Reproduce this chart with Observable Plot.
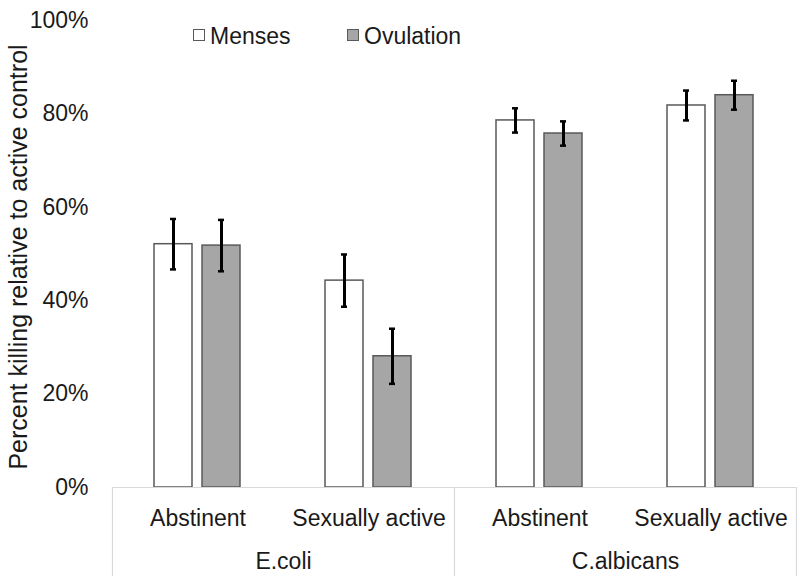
<!DOCTYPE html>
<html>
<head>
<meta charset="utf-8">
<script src="https://cdn.jsdelivr.net/npm/d3@7"></script>
<script src="https://cdn.jsdelivr.net/npm/@observablehq/plot@0.6"></script>
<style>
  html, body { margin: 0; padding: 0; background: #fff; }
  #wrap { position: relative; width: 800px; height: 584px; font-family: "Liberation Sans", Arial, sans-serif; color: #1a1a1a; }
  .lg-box { position: absolute; width: 10px; height: 10px; border: 1.5px solid #595959; }
  .lg-text { position: absolute; font-size: 23px; line-height: 26px; white-space: nowrap; }
</style>
</head>
<body>
<div id="wrap"></div>
<script>
// ---- data ----
const organisms = ["E.coli", "C.albicans"];
const groups = ["Abstinent", "Sexually active"];
const phases = ["Menses", "Ovulation"];
// order: E.coli Abstinent, E.coli Sexually active, C.albicans Abstinent, C.albicans Sexually active
const mensesMean = [52.1, 44.3, 78.6, 81.8];
const mensesErr = [5.4, 5.6, 2.6, 3.2];
const ovulationMean = [51.8, 28.1, 75.8, 84.0];
const ovulationErr = [5.5, 5.9, 2.6, 3.1];
const yTicks = [0, 20, 40, 60, 80, 100];
const yLabel = "Percent killing relative to active control";
const phaseColors = ["#ffffff", "#a6a6a6"];

// ---- build table ----
const cells = [];
organisms.forEach(o => groups.forEach(g => cells.push(`${o}|${g}`)));
const rows = [];
cells.forEach((c, i) => {
  rows.push({cell: c, phase: phases[0], mean: mensesMean[i], err: mensesErr[i]});
  rows.push({cell: c, phase: phases[1], mean: ovulationMean[i], err: ovulationErr[i]});
});

const lineShape = {draw(context, l) { context.moveTo(0, 0); context.lineTo(0, -l); }};
const sepColor = "#d9d9d9";
const font = "'Liberation Sans', Arial, sans-serif";

const chart = Plot.plot({
  width: 800,
  height: 584,
  marginLeft: 112,
  marginRight: 4,
  marginTop: 20,
  marginBottom: 97,
  style: {fontFamily: font, fontSize: "23px", color: "#1a1a1a", background: "#fff"},
  fx: {domain: cells, padding: 0, axis: null},
  x: {domain: phases, paddingInner: 0.204, paddingOuter: 0.847, axis: null},
  y: {domain: [0, 100], axis: null},
  color: {domain: phases, range: phaseColors},
  marks: [
    Plot.axisY({ticks: yTicks, tickFormat: d => d + "%", tickSize: 0, tickPadding: 24, fontSize: 23, label: null}),
    Plot.axisFx({anchor: "bottom", tickSize: 0, tickPadding: 22, fontSize: 23, label: null, tickFormat: d => d.split("|")[1]}),
    Plot.text([yLabel], {fx: () => cells[0], text: d => d, frameAnchor: "left", rotate: -90, textAnchor: "middle", lineAnchor: "middle", dx: -94, dy: 3, fontSize: 25}),
    Plot.text(organisms, {fx: d => `${d}|${groups[0]}`, text: d => d, frameAnchor: "bottom-right", textAnchor: "middle", lineAnchor: "top", dy: 65, fontSize: 23}),
    Plot.barY(rows, {fx: "cell", x: "phase", y: "mean", fill: "phase", stroke: "#595959", strokeWidth: 1.5}),
    Plot.ruleY([0], {stroke: sepColor, strokeWidth: 1.2}),
    Plot.vector([cells[0], cells[2]], {fx: d => d, frameAnchor: "bottom-left", length: 88, rotate: 180, anchor: "start", shape: lineShape, stroke: sepColor, strokeWidth: 1.2}),
    Plot.vector([cells[3]], {fx: d => d, frameAnchor: "bottom-right", length: 88, rotate: 180, anchor: "start", shape: lineShape, stroke: sepColor, strokeWidth: 1.2}),
    Plot.ruleX(rows, {fx: "cell", x: "phase", y1: d => d.mean - d.err, y2: d => d.mean + d.err, stroke: "#000", strokeWidth: 3}),
    Plot.tickY(rows, {fx: "cell", x: "phase", y: d => d.mean - d.err, stroke: "#000", strokeWidth: 2.5, insetLeft: 16, insetRight: 16}),
    Plot.tickY(rows, {fx: "cell", x: "phase", y: d => d.mean + d.err, stroke: "#000", strokeWidth: 2.5, insetLeft: 16, insetRight: 16})
  ]
});

const wrap = document.getElementById("wrap");
wrap.appendChild(chart);

// ---- legend (HTML overlay above the plot area) ----
const legendItems = [
  {label: phases[0], color: phaseColors[0], box: 193, text: 210},
  {label: phases[1], color: phaseColors[1], box: 347, text: 364}
];
legendItems.forEach(it => {
  const b = document.createElement("div");
  b.className = "lg-box";
  b.style.left = it.box + "px";
  b.style.top = "29px";
  b.style.background = it.color;
  wrap.appendChild(b);
  const t = document.createElement("div");
  t.className = "lg-text";
  t.style.left = it.text + "px";
  t.style.top = "23px";
  t.textContent = it.label;
  wrap.appendChild(t);
});
</script>
</body>
</html>
